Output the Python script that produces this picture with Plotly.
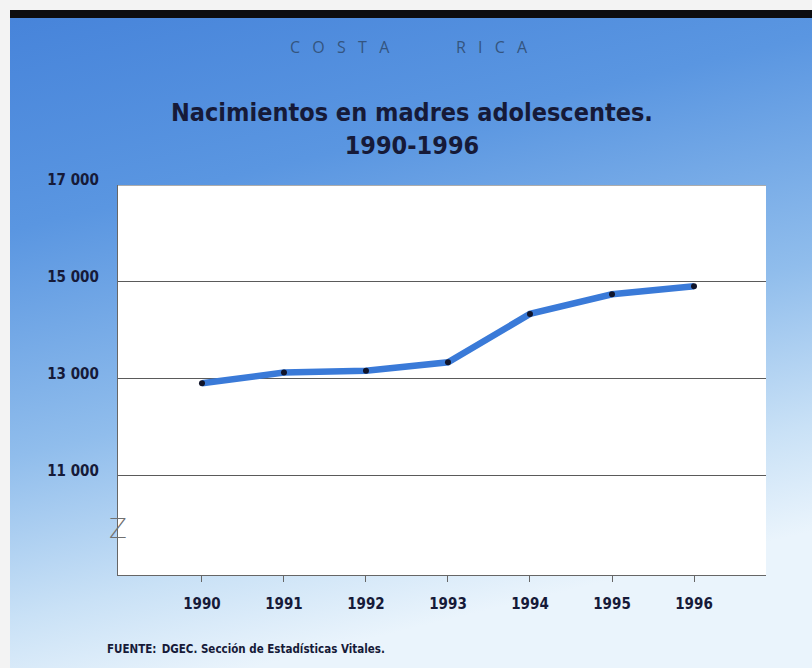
import base64
import plotly.graph_objects as go

# ---- data ----
years = [1990, 1991, 1992, 1993, 1994, 1995, 1996]
births = [12900, 13125, 13160, 13335, 14335, 14740, 14905]
y_tickvals = [11000, 13000, 15000, 17000]
y_ticktext = ["11 000", "13 000", "15 000", "17 000"]

title_text = "Nacimientos en madres adolescentes.<br>1990-1996"
_sp = "\u2002\u2009\u200a"
country_text = _sp.join("COSTA") + "\u2003\u2003\u2003\u2002\u2002\u2009" + _sp.join("RICA")
source_text = "FUENTE:\u2002DGEC. Sección de Estadísticas Vitales."

W, H = 812, 668
L, R, T, B = 118, 46, 185, 93
PW, PH = W - L - R, H - T - B

def px_x(px):
    return (px - L) / PW

def px_y(py):
    return (H - B - py) / PH

FONT = "DejaVu Sans Condensed, Roboto, sans-serif"
NAVY = "#161a38"

svg = f"""<svg xmlns='http://www.w3.org/2000/svg' width='802' height='650' viewBox='0 0 802 650' preserveAspectRatio='none'>
<defs>
<linearGradient id='g' x1='0' y1='0' x2='0.3' y2='1'>
<stop offset='0' stop-color='#4784da'/>
<stop offset='0.3' stop-color='#5a96e1'/>
<stop offset='0.62' stop-color='#90bdec'/>
<stop offset='0.85' stop-color='#c9e1f6'/>
<stop offset='1' stop-color='#eaf4fc'/>
</linearGradient>
</defs>
<rect x='0' y='0' width='802' height='650' fill='url(#g)'/>
</svg>"""
src = "data:image/svg+xml;base64," + base64.b64encode(svg.encode()).decode()

fig = go.Figure()
fig.add_trace(go.Scatter(
    x=years, y=births, mode="lines+markers",
    line=dict(color="#3a7ad8", width=6.5),
    marker=dict(color="#10142a", size=6),
    hoverinfo="skip", showlegend=False,
))

fig.update_layout(
    width=W, height=H,
    margin=dict(l=L, r=R, t=T, b=B),
    paper_bgcolor="#f3f3f3",
    plot_bgcolor="#ffffff",
    showlegend=False,
    font=dict(family=FONT, color=NAVY),
    xaxis=dict(
        range=[1988.976, 1996.878],
        tickvals=years, ticktext=[str(y) for y in years],
        showgrid=False, zeroline=False,
        showline=True, linecolor="#666666", linewidth=1.2,
        ticks="outside", ticklen=6, tickcolor="#666666", tickwidth=1,
        ticklabelstandoff=9,
        tickfont=dict(family=FONT, size=15, color=NAVY, weight="bold"),
    ),
    yaxis=dict(
        range=[8938, 17000],
        tickvals=y_tickvals, ticktext=y_ticktext,
        showgrid=True, gridcolor="#5a5a5a", gridwidth=1.2,
        zeroline=False,
        showline=True, linecolor="#666666", linewidth=1.2,
        ticks="", ticklabelstandoff=15, ticklabelshift=-5,
        tickfont=dict(family=FONT, size=15, color=NAVY, weight="bold"),
    ),
    images=[dict(
        source=src, xref="paper", yref="paper",
        x=px_x(10), y=px_y(18), sizex=802 / PW, sizey=650 / PH,
        sizing="stretch", xanchor="left", yanchor="top", layer="below",
    )],
    shapes=[
        dict(type="rect", xref="paper", yref="paper",
             x0=0, x1=1, y0=0, y1=1,
             fillcolor="#ffffff", line=dict(width=0), layer="below"),
        dict(type="rect", xref="paper", yref="paper",
             x0=px_x(10), x1=px_x(812), y0=px_y(18), y1=px_y(10),
             fillcolor="#0d0d10", line=dict(width=0), layer="above"),
        dict(type="line", xref="paper", yref="y",
             x0=0, x1=1, y0=17000, y1=17000,
             line=dict(color="#5a5a5a", width=1.2), layer="above"),
    ],
    annotations=[
        dict(text=country_text, xref="paper", yref="paper",
             x=px_x(409), y=px_y(47), xanchor="center", yanchor="middle",
             showarrow=False, font=dict(family="Open Sans, Lato, sans-serif", size=16, color="#34557f", weight=400)),
        dict(text=title_text, xref="paper", yref="paper",
             x=px_x(412), y=px_y(129), xanchor="center", yanchor="middle",
             showarrow=False, font=dict(family=FONT, size=25, color=NAVY, weight="bold")),
        dict(text="Z", xref="paper", yref="paper",
             x=0, y=px_y(529), xanchor="center", yanchor="middle",
             showarrow=False, font=dict(family="DejaVu Sans, sans-serif", size=26, color="#707070", weight=200)),
        dict(text=source_text, xref="paper", yref="paper",
             x=px_x(105), y=px_y(649), xanchor="left", yanchor="middle",
             showarrow=False, font=dict(family=FONT, size=11.5, color=NAVY, weight="bold")),
    ],
)

fig.write_html("out.html", config={"displayModeBar": False},
               post_script="document.body.style.margin='0';")
